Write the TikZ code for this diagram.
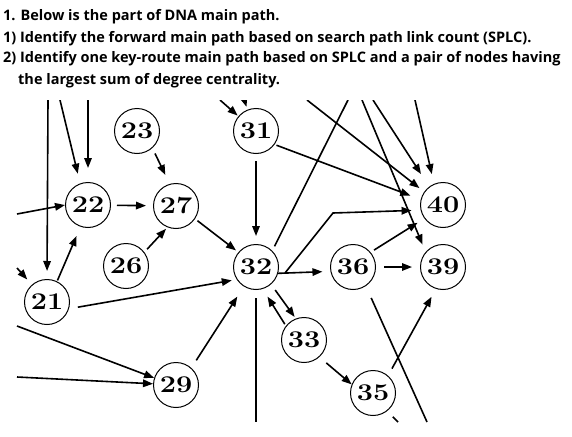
\documentclass[tikz,border=0pt]{standalone}
\usepackage{fontspec}
\usepackage{graphicx}
\newfontfamily\qfont{Open Sans}
\usetikzlibrary{arrows.meta}
\newcommand\nm[1]{\scalebox{1.2}[1]{#1}}
\begin{document}
\begin{tikzpicture}[x=1pt,y=-1pt,
  nd/.style={circle,draw,line width=1pt,minimum size=45pt,inner sep=0pt,font=\bfseries\fontsize{24}{24}\selectfont},
  arr/.style={line width=1.6pt,-{Triangle[length=10pt,width=7.5pt]}},
  ln/.style={line width=1.6pt},
  qline/.style={anchor=base west,inner sep=0pt,font=\qfont\bfseries\fontsize{14.5}{17}\selectfont}]
\useasboundingbox (0,0) rectangle (572,436);
% question text
\node[qline] (q1) at (3,21) {1. Below is the part of DNA main path.};
\node[qline] (q2) at (3,42) {1) Identify the forward main path based on search path link count (SPLC).};
\node[qline] (q3) at (3,63) {2) Identify one key-route main path based on SPLC and a pair of nodes having};
\node[qline] (q4) at (18,84) {the largest sum of degree centrality.};
% nodes
\node[nd] (22) at (88,205) {\nm{22}};
\node[nd] (27) at (176,206) {\nm{27}};
\node[nd] (23) at (137,131) {\nm{23}};
\node[nd] (31) at (256,131) {\nm{31}};
\node[nd] (26) at (126,266) {\nm{26}};
\node[nd] (32) at (256,267) {\nm{32}};
\node[nd] (21) at (47,302) {\nm{21}};
\node[nd] (29) at (176,385) {\nm{29}};
\node[nd] (40) at (443,205) {\nm{40}};
\node[nd] (36) at (353,267) {\nm{36}};
\node[nd] (39) at (443,267) {\nm{39}};
\node[nd] (33) at (304,340) {\nm{33}};
\node[nd] (35) at (373,393) {\nm{35}};
% free ends
\coordinate (t1) at (48,100);
\coordinate (t2) at (60,100);
\coordinate (t3) at (88,100);
\coordinate (t4) at (220,100);
\coordinate (t5) at (240,86);
\coordinate (t6) at (307,100);
\coordinate (t7) at (348,100);
\coordinate (t8) at (362,100);
\coordinate (t9) at (373,100);
\coordinate (t10) at (415,100);
\coordinate (l1) at (17,214);
\coordinate (l2) at (17,268);
\coordinate (l3) at (17,326);
\coordinate (l4) at (17,377);
\coordinate (b1) at (256,422);
\coordinate (b2) at (427,422);
\coordinate (b3) at (398,422);
\coordinate (k0) at (285,273);
\coordinate (k1) at (333,213);
\begin{scope}
\clip (0,100) rectangle (572,423);
\draw[arr,shorten >=8pt] (t1) -- (21.90);
\draw[arr,shorten >=10pt] (t2) -- (22.110);
\draw[arr,shorten >=14pt] (t3) -- (22.90);
\draw[arr] (l1) -- (22.180);
\draw[arr,shorten >=7pt] (l2) -- (21.131);
\draw[arr] (l3) -- (29.162);
\draw[arr] (l4) -- (29.177);
\draw[arr,shorten >=1pt] (t4) -- (31.140);
\draw[arr,shorten >=3pt] (t5) -- (31.112);
\draw[arr,shorten <=6pt,shorten >=7pt] (22) -- (27);
\draw[arr,shorten <=6pt,shorten >=10pt] (23.-48) -- (27.106);
\draw[arr,shorten <=4pt,shorten >=2pt] (26.37) -- (27.248);
\draw[arr,shorten <=3pt,shorten >=3pt] (27.-34) -- (32.140);
\draw[arr,shorten <=7pt,shorten >=8pt] (31) -- (32);
\draw[arr,shorten <=1pt,shorten >=10pt] (21.64) -- (22.251);
\draw[arr,shorten <=9pt,shorten >=5pt] (21.-17) -- (32.213);
\draw[arr,shorten <=9pt,shorten >=12pt] (29.48) -- (32.238);
\draw[ln,shorten <=8pt] (32.-90) -- (b1);
\draw[arr,shorten <=7pt,shorten >=2pt] (32.-49) -- (33.111);
\draw[arr,shorten <=2pt,shorten >=9pt] (33.142) -- (32.-73);
\draw[arr,shorten <=9pt] (33.-48) -- (35.158);
\draw[arr,shorten <=8pt,shorten >=9pt] (35.49) -- (39.252);
\draw[ln,shorten <=13pt] (36.-56) -- (b2);
\draw[ln,shorten <=8pt] (35.-52) -- (b3);
\draw[arr,shorten <=8pt,shorten >=8pt] (36) -- (39);
\draw[arr,shorten >=8pt] (32.-16) -- (36.191);
\draw[arr,shorten >=9pt] (k0) -- (k1) -- (40.193);
\draw[arr,shorten <=4pt,shorten >=8pt] (36.40) -- (40.216);
\draw[ln,shorten <=5pt] (32.45) -- (t7);
\draw[arr,shorten <=2pt,shorten >=11pt] (31.-36) -- (40.166);
\draw[arr,shorten >=6pt] (t6) -- (40.145);
\draw[arr,shorten >=8pt] (t8) -- (39.139);
\draw[arr,shorten >=15pt] (t9) -- (40.127);
\draw[arr,shorten >=10pt] (t10) -- (40.113);
\end{scope}
\end{tikzpicture}
\end{document}
